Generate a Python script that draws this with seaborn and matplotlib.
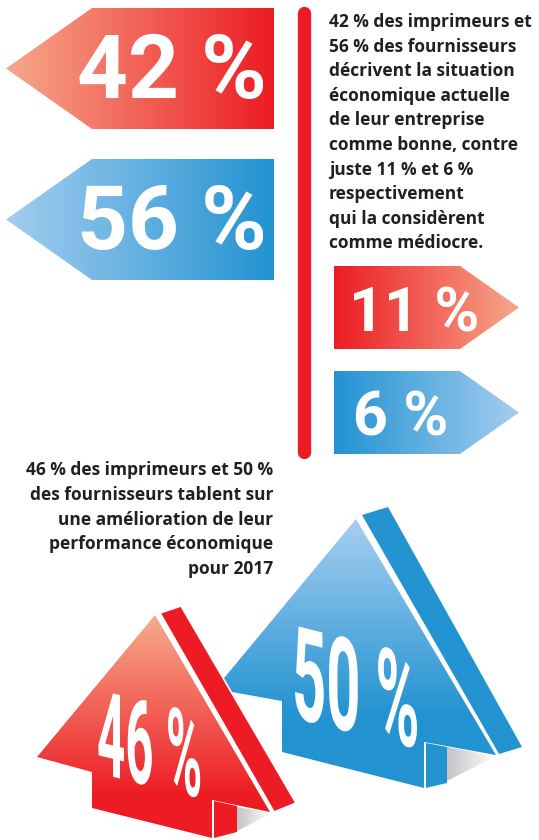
import numpy as np
import matplotlib
matplotlib.use('Agg')
import matplotlib.pyplot as plt
import matplotlib.patheffects as pe
from matplotlib.patches import Polygon
from matplotlib.transforms import Affine2D
import seaborn as sns

# ---------------------------------------------------------
# Data
# ---------------------------------------------------------
groups = ['imprimeurs', 'fournisseurs']
good_share = [42, 56]        # situation actuelle "bonne"
poor_share = [11, 6]         # situation actuelle "médiocre"
outlook_share = [46, 50]     # amélioration attendue pour 2017

top_text = [
    "42 % des imprimeurs et",
    "56 % des fournisseurs",
    "décrivent la situation",
    "économique actuelle",
    "de leur entreprise",
    "comme bonne, contre",
    "juste 11 % et 6 %",
    "respectivement",
    "qui la considèrent",
    "comme médiocre.",
]
bottom_text = [
    "46 % des imprimeurs et 50 %",
    "des fournisseurs tablent sur",
    "une amélioration de leur",
    "performance économique",
    "pour 2017",
]

RED = '#ed1c24'
SALMON = '#f6a88a'
BLUE = '#2393d2'
LIGHTBLUE = '#a3cdef'
INK = '#231f20'

sns.set_theme(style='white')
plt.rcParams['font.family'] = ['Roboto', 'DejaVu Sans']
BODY_FONT = ['Open Sans', 'DejaVu Sans']


class Stretch(pe.AbstractPathEffect):
    """Stretch glyphs vertically and shear the baseline downwards."""
    def __init__(self, sy, slope):
        super().__init__()
        self.t = Affine2D().scale(1, sy).skew(0, -np.arctan(slope))

    def draw_path(self, renderer, gc, tpath, affine, rgbFace=None):
        renderer.draw_path(gc, tpath, self.t + affine, rgbFace)


def gradient_poly(ax, verts, c0, c1, a, b, vertical=False, zorder=1):
    verts = np.asarray(verts, float)
    poly = Polygon(verts, closed=True, facecolor='none', edgecolor='none')
    ax.add_patch(poly)
    x0, y0 = verts.min(0)
    x1, y1 = verts.max(0)
    if vertical:
        pos = np.linspace(y0, y1, 300)
        arr = np.clip((pos - a) / (b - a), 0, 1)[:, None]
    else:
        pos = np.linspace(x0, x1, 300)
        arr = np.clip((pos - a) / (b - a), 0, 1)[None, :]
    cmap = sns.blend_palette([c0, c1], as_cmap=True)
    im = ax.imshow(arr, cmap=cmap, vmin=0, vmax=1, extent=(x0, x1, y1, y0),
                   origin='upper', aspect='auto', interpolation='bilinear',
                   zorder=zorder)
    im.set_clip_path(poly)


fig = plt.figure(figsize=(5.39, 8.40), dpi=100)
ax = fig.add_axes([0, 0, 1, 1])
ax.axis('off')

# ---------------------------------------------------------
# Left-pointing arrows (bonne)
# ---------------------------------------------------------
left_tops = [8, 159]
left_cols = [(SALMON, RED), (LIGHTBLUE, BLUE)]
for top, (c0, c1), val in zip(left_tops, left_cols, good_share):
    h = 121
    verts = [(92, top), (274, top), (274, top + h), (92, top + h), (6, top + h / 2)]
    gradient_poly(ax, verts, c0, c1, 6, 274)
    ax.text(172, top + 90, f'{val} %', ha='center', va='baseline',
            fontsize=64, fontweight='bold', color='white', zorder=3)

# ---------------------------------------------------------
# Right-pointing arrows (médiocre)
# ---------------------------------------------------------
right_tops = [266, 371]
right_cols = [(RED, SALMON), (BLUE, LIGHTBLUE)]
right_x = [414, 401]
for top, (c0, c1), val, tx in zip(right_tops, right_cols, poor_share, right_x):
    h = 83
    verts = [(334, top), (460, top), (519, top + h / 2), (460, top + h), (334, top + h)]
    gradient_poly(ax, verts, c0, c1, 334, 519)
    ax.text(tx, top + 65, f'{val} %', ha='center', va='baseline',
            fontsize=44, fontweight='bold', color='white', zorder=3)

# vertical divider
ax.plot([303.5, 303.5], [13, 452], color=RED, lw=9.6, solid_capstyle='round', zorder=2)

# text blocks
for i, line in enumerate(top_text):
    ax.text(329, 27 + i * 24.6, line, ha='left', va='baseline', fontsize=12.5,
            fontweight='bold', color=INK, family=BODY_FONT, zorder=3)
for i, line in enumerate(bottom_text):
    ax.text(273, 475 + i * 24.8, line, ha='right', va='baseline', fontsize=12.5,
            fontweight='bold', color=INK, family=BODY_FONT, zorder=3)

# ---------------------------------------------------------
# 3D up arrows (perspectives 2017)
# ---------------------------------------------------------
# blue (fournisseurs) behind
blue_front = [(356, 519), (496, 755), (424, 742), (424, 788), (282, 752),
              (282, 701), (215, 689)]
gradient_poly(ax, blue_front, LIGHTBLUE, BLUE, 525, 715, vertical=True, zorder=4)
ax.add_patch(Polygon([(362, 515), (388, 507), (522, 747), (499, 754)],
                     facecolor=BLUE, edgecolor='none', zorder=4))
ax.add_patch(Polygon([(426, 743), (447, 747), (447, 783), (426, 788)],
                     facecolor=BLUE, edgecolor='none', zorder=4))
gradient_poly(ax, [(447, 747), (496, 756), (447, 781)], '#c4c4c6', '#ffffff',
              447, 496, zorder=4)

# red (imprimeurs) in front
red_front = [(155, 615), (270, 812), (212, 800), (212, 838), (92, 808),
             (92, 772), (37, 757)]
gradient_poly(ax, red_front, SALMON, RED, 620, 795, vertical=True, zorder=6)
ax.add_patch(Polygon([(160, 613), (181, 606), (296, 803), (274, 812)],
                     facecolor=RED, edgecolor='white', lw=1.2, zorder=6))
ax.add_patch(Polygon([(214, 801), (237, 806), (237, 832), (214, 838)],
                     facecolor=RED, edgecolor='none', zorder=6))
gradient_poly(ax, [(237, 807), (272, 813), (237, 831)], '#c4c4c6', '#ffffff',
              237, 272, zorder=6)

# condensed (tall), sheared labels
ax.text(292, 717, f'{outlook_share[1]} %', ha='left', va='baseline', fontsize=43,
        fontweight='bold', color='white', zorder=5,
        path_effects=[Stretch(2.17, 0.25)])
ax.text(97, 773, f'{outlook_share[0]} %', ha='left', va='baseline', fontsize=35.5,
        fontweight='bold', color='white', zorder=7,
        path_effects=[Stretch(2.38, 0.24)])

ax.set_xlim(0, 539)
ax.set_ylim(840, 0)
fig.savefig('out.png', dpi=100)
